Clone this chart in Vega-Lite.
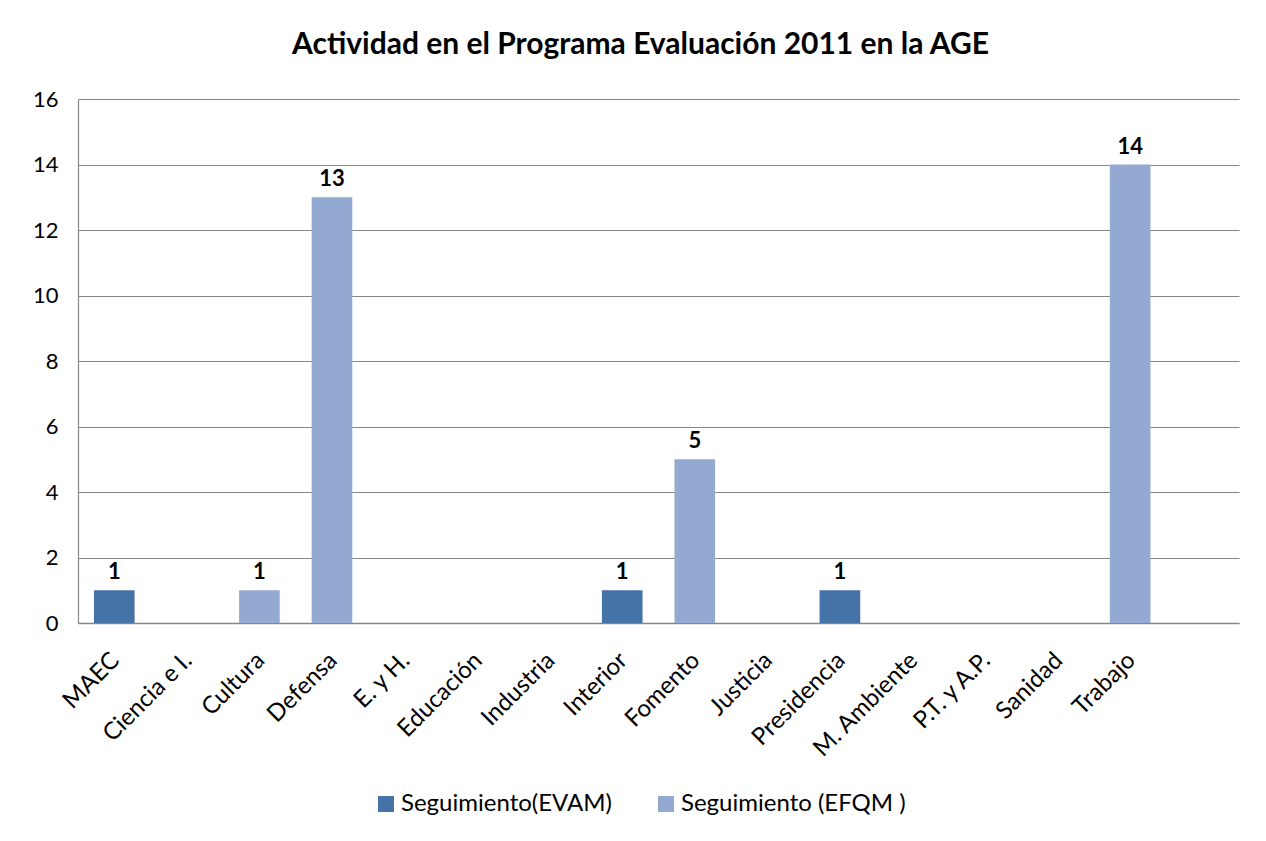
{
  "$schema": "https://vega.github.io/schema/vega-lite/v6.json",
  "width": 1161,
  "height": 524,
  "autosize": {"type": "none"},
  "padding": {"left": 78, "top": 99, "right": 27, "bottom": 218},
  "background": "white",
  "title": {
    "text": "Actividad en el Programa Evaluación 2011 en la AGE",
    "font": "Lato",
    "fontSize": 30,
    "fontWeight": "bold",
    "color": "#000000",
    "anchor": "middle",
    "dx": -18,
    "offset": 28
  },
  "config": {
    "view": {"stroke": null},
    "font": "Lato",
    "axis": {"labelFont": "Lato", "labelColor": "#000000"},
    "legend": {"labelFont": "Lato"}
  },
  "data": {
    "values": [
      {"ministerio": "MAEC", "serie": "Seguimiento(EVAM)", "valor": 1},
      {"ministerio": "Cultura", "serie": "Seguimiento (EFQM )", "valor": 1},
      {"ministerio": "Defensa", "serie": "Seguimiento (EFQM )", "valor": 13},
      {"ministerio": "Interior", "serie": "Seguimiento(EVAM)", "valor": 1},
      {"ministerio": "Fomento", "serie": "Seguimiento (EFQM )", "valor": 5},
      {"ministerio": "Presidencia", "serie": "Seguimiento(EVAM)", "valor": 1},
      {"ministerio": "Trabajo", "serie": "Seguimiento (EFQM )", "valor": 14}
    ]
  },
  "encoding": {
    "x": {
      "field": "ministerio",
      "type": "nominal",
      "sort": null,
      "scale": {
        "domain": ["MAEC", "Ciencia e I.", "Cultura", "Defensa", "E. y H.", "Educación", "Industria", "Interior", "Fomento", "Justicia", "Presidencia", "M. Ambiente", "P.T. y A.P.", "Sanidad", "Trabajo", " "],
        "paddingInner": 0.44,
        "paddingOuter": 0.22
      },
      "axis": {
        "title": null,
        "labelAngle": -45,
        "labelFontSize": 24,
        "labelPadding": 25,
        "labelOffset": -7,
        "labelLimit": 0,
        "ticks": false,
        "domainColor": "#868686",
        "domainWidth": 1.5,
        "grid": false
      }
    },
    "y": {
      "field": "valor",
      "type": "quantitative",
      "scale": {"domain": [0, 16]},
      "axis": {
        "title": null,
        "values": [0, 2, 4, 6, 8, 10, 12, 14, 16],
        "labelFontSize": 22,
        "labelPadding": 20,
        "ticks": false,
        "grid": true,
        "gridColor": "#868686",
        "gridWidth": 1.2,
        "domainColor": "#868686",
        "domainWidth": 1.2
      }
    }
  },
  "layer": [
    {
      "mark": {"type": "bar"},
      "encoding": {
        "color": {
          "field": "serie",
          "type": "nominal",
          "scale": {
            "domain": ["Seguimiento(EVAM)", "Seguimiento (EFQM )"],
            "range": ["#4572A7", "#94A9D1"]
          },
          "legend": {
            "title": null,
            "orient": "none",
            "legendX": 296,
            "legendY": 693,
            "direction": "horizontal",
            "symbolType": "square",
            "symbolSize": 256,
            "symbolStrokeWidth": 0,
            "labelFontSize": 24,
            "labelLimit": 0,
            "labelColor": "#000000",
            "columnPadding": 42,
            "labelOffset": 3
          }
        }
      }
    },
    {
      "mark": {"type": "text", "baseline": "bottom", "dy": -6, "fontSize": 22, "fontWeight": "bold", "color": "#000000", "font": "Lato"},
      "encoding": {
        "text": {"field": "valor", "type": "quantitative"}
      }
    }
  ]
}
